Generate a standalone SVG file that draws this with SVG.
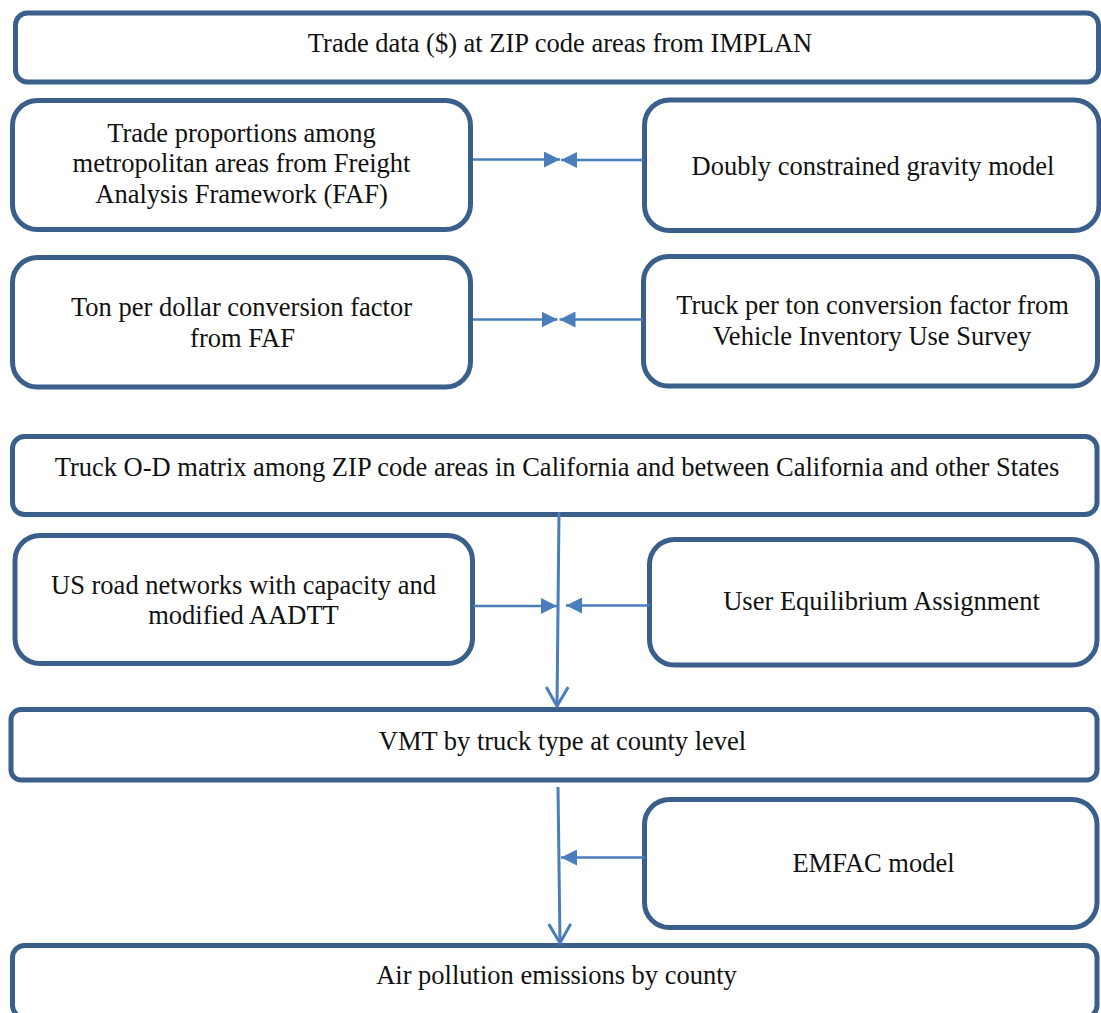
<svg xmlns="http://www.w3.org/2000/svg" width="1101" height="1013" viewBox="0 0 1101 1013">
<style>
.box{fill:#fff;stroke:#3a5f8b;stroke-width:5}
.t{font-family:'Liberation Serif',serif;font-size:26.5px;fill:#111;text-anchor:middle}
.c{fill:none;stroke:#4a7ebb;stroke-width:2.5}
.v{fill:none;stroke:#4a7ebb;stroke-width:3}
</style>
<defs>
<marker id="tri" markerUnits="userSpaceOnUse" viewBox="0 0 16 16" refX="16" refY="8" markerWidth="16" markerHeight="16" orient="auto">
<path d="M0,0 L16,8 L0,16 z" fill="#4a7ebb"/>
</marker>
<marker id="open" markerUnits="userSpaceOnUse" viewBox="-3 -3 25 28" refX="19" refY="11" markerWidth="25" markerHeight="28" orient="auto">
<path d="M0,0 L19,11 L0,22" fill="none" stroke="#4a7ebb" stroke-width="3"/>
</marker>
</defs>
<rect width="1101" height="1013" fill="#fff"/>
<g font-family="Liberation Serif, serif">
<g id="n1"><rect class="box" x="15.5" y="13" width="1083" height="69" rx="12"/><text class="t" x="560" y="52">Trade data ($) at ZIP code areas from IMPLAN</text></g>
<g id="n2"><rect class="box" x="12.5" y="100.5" width="458" height="129" rx="25"/><text class="t" x="241.5" y="141.5">Trade proportions among</text><text class="t" x="241.5" y="172">metropolitan areas from Freight</text><text class="t" x="241.5" y="202.5">Analysis Framework (FAF)</text></g>
<g id="n3"><rect class="box" x="644.5" y="100" width="454.5" height="130.5" rx="25"/><text class="t" x="873" y="175">Doubly constrained gravity model</text></g>
<g id="n4"><rect class="box" x="12.5" y="257.5" width="458" height="129.5" rx="25"/><text class="t" x="241.5" y="316">Ton per dollar conversion factor</text><text class="t" x="242.5" y="347">from FAF</text></g>
<g id="n5"><rect class="box" x="643.5" y="256.5" width="454" height="129.5" rx="25"/><text class="t" x="872.5" y="314">Truck per ton conversion factor from</text><text class="t" x="872" y="345">Vehicle Inventory Use Survey</text></g>
<g id="n6"><rect class="box" x="12.5" y="436.5" width="1084.5" height="78" rx="12"/><text class="t" x="557" y="476">Truck O-D matrix among ZIP code areas in California and between California and other States</text></g>
<g id="n7"><rect class="box" x="15" y="535.5" width="457.5" height="128" rx="25"/><text class="t" x="243.5" y="593.5">US road networks with capacity and</text><text class="t" x="243.5" y="624">modified AADTT</text></g>
<g id="n8"><rect class="box" x="649.5" y="539.5" width="447.5" height="125.5" rx="25"/><text class="t" x="881.5" y="610">User Equilibrium Assignment</text></g>
<g id="n9"><rect class="box" x="11" y="709.5" width="1086" height="70.5" rx="10"/><text class="t" x="562.5" y="750">VMT by truck type at county level</text></g>
<g id="n10"><rect class="box" x="644.5" y="799.5" width="452.5" height="128" rx="25"/><text class="t" x="873.5" y="872">EMFAC model</text></g>
<g id="n11"><rect class="box" x="12.5" y="945.5" width="1084.5" height="72" rx="12"/><text class="t" x="556.5" y="983.5">Air pollution emissions by county</text></g>
</g>
<g id="connectors">
<line class="c" x1="473" y1="159.5" x2="560" y2="159.5" marker-end="url(#tri)"/>
<line class="c" x1="644" y1="160" x2="561" y2="160" marker-end="url(#tri)"/>
<line class="c" x1="473" y1="319.5" x2="557.5" y2="319.5" marker-end="url(#tri)"/>
<line class="c" x1="643" y1="319.5" x2="559.5" y2="319.5" marker-end="url(#tri)"/>
<line class="v" x1="559" y1="512" x2="557" y2="706" marker-end="url(#open)"/>
<line class="c" x1="473" y1="606" x2="557" y2="606" marker-end="url(#tri)"/>
<line class="c" x1="650" y1="605.5" x2="566" y2="605.5" marker-end="url(#tri)"/>
<line class="v" x1="558" y1="787" x2="560" y2="943" marker-end="url(#open)"/>
<line class="c" x1="645" y1="857.5" x2="561" y2="857.5" marker-end="url(#tri)"/>
</g>
</svg>
